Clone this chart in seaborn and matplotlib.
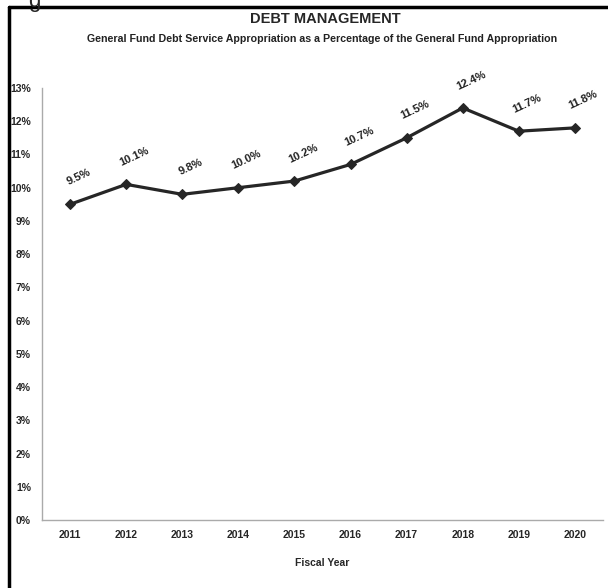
import matplotlib.pyplot as plt
import matplotlib.ticker as mtick
from matplotlib.lines import Line2D
import numpy as np
import pandas as pd
import seaborn as sns

sns.set_style("white")
plt.rcParams["font.family"] = ["Liberation Sans", "DejaVu Sans"]
plt.rcParams["font.size"] = 8

years = ["2011", "2012", "2013", "2014", "2015", "2016", "2017", "2018", "2019", "2020"]
pct = [9.5, 10.1, 9.8, 10.0, 10.2, 10.7, 11.5, 12.4, 11.7, 11.8]
labels = ["9.5%", "10.1%", "9.8%", "10.0%", "10.2%", "10.7%", "11.5%", "12.4%", "11.7%", "11.8%"]

df = pd.DataFrame({"year": years, "pct": pct})
df["pos"] = np.arange(len(df))

fig = plt.figure(figsize=(6.08, 5.88), dpi=100)
ax = fig.add_axes([42 / 608, 68 / 588, 561 / 608, 432 / 588])

sns.lineplot(data=df, x="pos", y="pct", ax=ax, color="#262626", linewidth=2.3,
             marker="D", markersize=5.5, markeredgecolor="#262626")

for x, y, t in zip(df["pos"], df["pct"], labels):
    ax.annotate(t, xy=(x, y), xytext=(6, 20), textcoords="offset points",
                ha="center", va="center", rotation=25, fontweight="bold",
                fontsize=8, color="#222222")

ax.set_xlim(-0.5, len(years) - 0.5)
ax.set_ylim(0, 13)
ax.set_xticks(df["pos"])
ax.set_xticklabels(years, fontweight="bold", fontsize=7.5)
ax.set_xticks(np.arange(-0.5, len(years)), minor=True)
ax.tick_params(axis="x", which="major", length=0, pad=7)
ax.tick_params(axis="x", which="minor", length=4, color="#aaaaaa", direction="out")
ax.set_yticks(np.arange(0, 14, 1))
ax.yaxis.set_major_formatter(mtick.StrMethodFormatter("{x:.0f}%"))
ax.tick_params(axis="y", length=3, color="#aaaaaa", pad=5, direction="out", labelsize=7.5)
for lab in ax.get_yticklabels():
    lab.set_fontweight("bold")

sns.despine(ax=ax)
for s in ["left", "bottom"]:
    ax.spines[s].set_color("#aaaaaa")
    ax.spines[s].set_linewidth(1)

ax.set_xlabel("Fiscal Year", fontweight="bold", fontsize=7.5, labelpad=13)
ax.set_ylabel("")

fig.text(325 / 608, 1 - 19 / 588, "DEBT MANAGEMENT", ha="center", va="center",
         fontweight="bold", fontsize=10.5)
fig.text(322 / 608, 1 - 39 / 588,
         "General Fund Debt Service Appropriation as a Percentage of the General Fund Appropriation",
         ha="center", va="center", fontweight="bold", fontsize=7.7, color="#222222")

# frame of the screenshot
fig.add_artist(Line2D([9 / 608, 9 / 608], [0, 1 - 7 / 588], transform=fig.transFigure,
                      color="black", linewidth=2.5))
fig.add_artist(Line2D([9 / 608, 1], [1 - 7 / 588, 1 - 7 / 588], transform=fig.transFigure,
                      color="black", linewidth=2.5))
fig.text(28 / 608, 1 - 2 / 588, "g", ha="left", va="center", fontsize=16)

plt.savefig("out.png", dpi=100, facecolor="white")
